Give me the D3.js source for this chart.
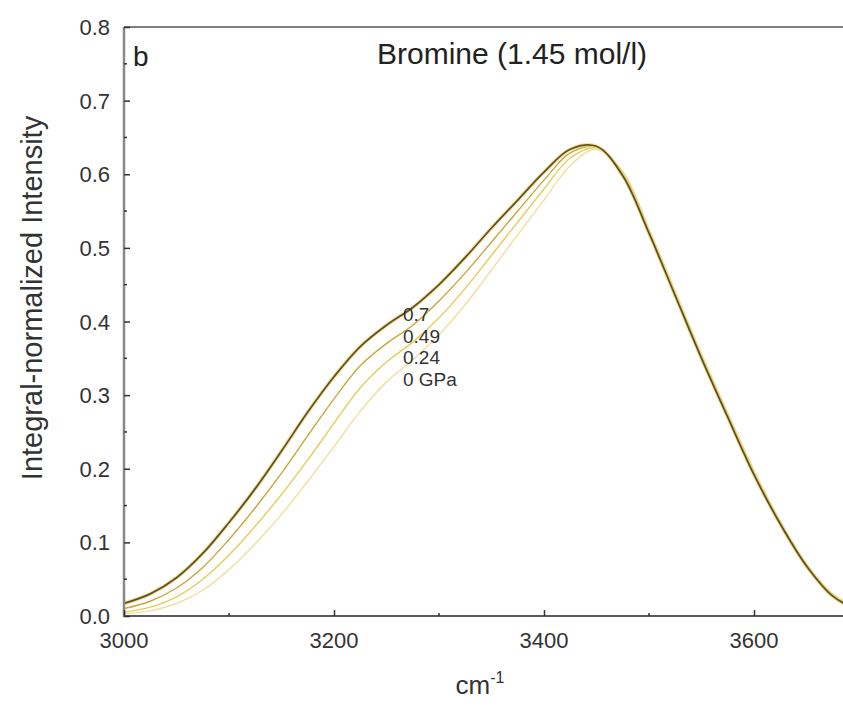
<!DOCTYPE html>
<html><head><meta charset="utf-8">
<script src="https://cdn.jsdelivr.net/npm/d3@7"></script>
<style>body{margin:0;background:#fff;} text{font-family:"Liberation Sans",Arial,sans-serif;}</style>
</head><body><svg id="c" width="843" height="706"></svg>
<script>
const wavenumbers = [3000,3025,3050,3075,3100,3125,3150,3175,3200,3225,3250,3275,3300,3325,3350,3375,3400,3425,3450,3475,3500,3525,3550,3575,3600,3625,3650,3675,3700];
const p070 = [0.017,0.030,0.052,0.085,0.127,0.173,0.224,0.277,0.325,0.366,0.395,0.419,0.450,0.487,0.527,0.565,0.603,0.634,0.638,0.598,0.520,0.435,0.350,0.270,0.192,0.125,0.068,0.027,0.007];
const p049 = [0.010,0.020,0.038,0.066,0.104,0.147,0.194,0.245,0.295,0.340,0.370,0.395,0.428,0.466,0.508,0.550,0.592,0.629,0.637,0.600,0.522,0.437,0.352,0.272,0.194,0.127,0.069,0.028,0.008];
const p024 = [0.005,0.012,0.026,0.050,0.083,0.122,0.165,0.212,0.262,0.310,0.345,0.372,0.405,0.445,0.490,0.535,0.580,0.622,0.636,0.602,0.524,0.439,0.354,0.274,0.196,0.128,0.070,0.029,0.009];
const p000 = [0.003,0.007,0.017,0.035,0.063,0.098,0.138,0.183,0.230,0.278,0.318,0.348,0.382,0.423,0.470,0.518,0.565,0.612,0.634,0.604,0.526,0.441,0.356,0.276,0.198,0.129,0.071,0.030,0.010];
const seriesNames = ["0 GPa","0.24","0.49","0.7"];
const seriesColors = ["#f1df9e","#e6cc5c","#c9a73a","#5e5128"];
const xTicks = [3000,3200,3400,3600];
const yTicks = [0.0,0.1,0.2,0.3,0.4,0.5,0.6,0.7,0.8];
const title = "Bromine (1.45 mol/l)";

const svg = d3.select("#c");
const x = d3.scaleLinear().domain([3000,3700]).range([124,859]);
const y = d3.scaleLinear().domain([0,0.8]).range([616,27]);
const data = [p000,p024,p049,p070];

// curves
const line = d3.line().x((d,i)=>x(wavenumbers[i])).y(d=>y(d)).curve(d3.curveCatmullRom.alpha(0.5));
data.forEach((s,k)=>{
  if(k===3){
    svg.append("path").attr("d",line(s)).attr("fill","none").attr("stroke","#f3dd8a").attr("stroke-width",4).attr("opacity",0.8);
  }
  svg.append("path").attr("d",line(s)).attr("fill","none")
    .attr("stroke",seriesColors[k]).attr("stroke-width",k===3?1.8:1.4);
});

// frame
svg.append("line").attr("x1",124).attr("x2",843).attr("y1",27).attr("y2",27).attr("stroke","#555").attr("stroke-width",1.5);
svg.append("line").attr("x1",124).attr("x2",843).attr("y1",616).attr("y2",616).attr("stroke","#222").attr("stroke-width",1.5);
svg.append("line").attr("x1",124).attr("x2",124).attr("y1",27).attr("y2",617).attr("stroke","#888").attr("stroke-width",2.5);

// y axis ticks
const yAxis = d3.axisRight(y).tickValues(yTicks).tickSize(6).tickFormat("");
const gy = svg.append("g").attr("transform","translate(124,0)").call(yAxis);
gy.select(".domain").remove();
gy.selectAll("line").attr("stroke","#333").attr("stroke-width",1.5);
const yMinor = d3.range(0.05,0.8,0.1);
gy.selectAll(".minor").data(yMinor).enter().append("line").attr("x1",0).attr("x2",3).attr("y1",d=>y(d)).attr("y2",d=>y(d)).attr("stroke","#333").attr("stroke-width",1.5);
svg.selectAll(".ylab").data(yTicks).enter().append("text")
  .attr("x",110).attr("y",d=>y(d)+8).attr("text-anchor","end").attr("font-size",22).attr("fill","#333")
  .text(d=>d3.format(".1f")(d));

// x axis ticks
const xAxis = d3.axisTop(x).tickValues(xTicks).tickSize(6).tickFormat("");
const gx = svg.append("g").attr("transform","translate(0,616)").call(xAxis);
gx.select(".domain").remove();
gx.selectAll("line").attr("stroke","#333").attr("stroke-width",1.5);
gx.selectAll(".minor").data([3100,3300,3500,3700]).enter().append("line").attr("x1",d=>x(d)).attr("x2",d=>x(d)).attr("y1",0).attr("y2",-3).attr("stroke","#333").attr("stroke-width",1.5);
svg.selectAll(".xlab").data(xTicks).enter().append("text")
  .attr("x",d=>x(d)).attr("y",648).attr("text-anchor","middle").attr("font-size",22).attr("fill","#333").text(d=>d);

// axis titles
const xt = svg.append("text").attr("x",480).attr("y",694).attr("text-anchor","middle").attr("font-size",26).attr("fill","#333");
xt.append("tspan").text("cm");
xt.append("tspan").attr("dy",-11).attr("font-size",16).text("-1");
svg.append("text").attr("transform","translate(42,298) rotate(-90)").attr("text-anchor","middle").attr("font-size",29).attr("fill","#333").text("Integral-normalized Intensity");

svg.append("text").attr("x",512).attr("y",64).attr("text-anchor","middle").attr("font-size",30).attr("fill","#222").text(title);
svg.append("text").attr("x",133).attr("y",66).attr("font-size",28).attr("fill","#222").text("b");

// curve labels
const labels = ["0.7","0.49","0.24","0 GPa"];
svg.selectAll(".clab").data(labels).enter().append("text")
  .attr("x",403).attr("y",(d,i)=>321+i*21.5).attr("font-size",19).attr("fill","#333").text(d=>d);
</script></body></html>
